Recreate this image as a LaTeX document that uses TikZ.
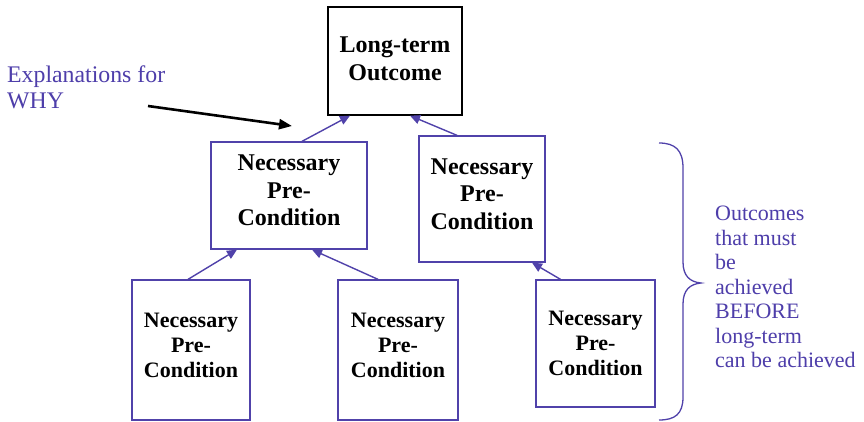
\documentclass[tikz,border=0pt]{standalone}
\usepackage{fontspec}
\setmainfont{Liberation Serif}
\usetikzlibrary{arrows.meta,calc}
\definecolor{nodeblue}{RGB}{80,66,170}
\definecolor{textblue}{RGB}{78,62,170}
\begin{document}
\begin{tikzpicture}[x=1pt,y=-1pt,
  box/.style={draw=nodeblue,line width=1.3pt,fill=white,inner sep=0pt},
  boxtext/.style={inner sep=0pt,align=center,font=\fontsize{22}{25}\selectfont\bfseries},
  bigtext/.style={inner sep=0pt,align=center,font=\fontsize{24}{27.5}\selectfont\bfseries},
  link/.style={draw=nodeblue,line width=1.4pt,-{Triangle[length=10pt,width=9pt]}},
  note/.style={text=textblue,align=left,inner sep=0pt}]
\useasboundingbox (0,0) rectangle (864,421);
\fill[white] (0,0) rectangle (864,421);

% goal box
\node[box,draw=black,minimum width=134pt,minimum height=108pt] (goal) at (395,61) {};
\node[bigtext,font=\fontsize{24}{28}\selectfont\bfseries] (goalT) at ([yshift=2pt]goal.center) {Long-term\\Outcome};

% intermediate preconditions
\node[box,minimum width=156pt,minimum height=107pt] (midL) at (289,195.5) {};
\node[bigtext] (midLT) at ([yshift=5pt]midL.center) {Necessary\\Pre-\\Condition};
\node[box,minimum width=126pt,minimum height=126pt] (midR) at (482,199) {};
\node[bigtext] (midRT) at ([yshift=5pt]midR.center) {Necessary\\Pre-\\Condition};

% lowest preconditions
\node[box,minimum width=118pt,minimum height=140pt] (b1) at (191,350) {};
\node[boxtext] (b1T) at ([yshift=5pt]b1.center) {Necessary\\Pre-\\Condition};
\node[box,minimum width=120pt,minimum height=140pt] (b2) at (398,350) {};
\node[boxtext] (b2T) at ([yshift=5pt]b2.center) {Necessary\\Pre-\\Condition};
\node[box,minimum width=119pt,minimum height=127pt] (b3) at (595.5,343.5) {};
\node[boxtext] (b3T) at (b3.center) {Necessary\\Pre-\\Condition};

% links toward the outcome
\draw[link] ([xshift=13pt]midL.north) -- ([xshift=-45pt]goal.south);
\draw[link] ([xshift=-25pt]midR.north) -- ([xshift=15pt]goal.south);
\draw[link] ([xshift=-3pt]b1.north) -- ([xshift=-52pt]midL.south);
\draw[link] ([xshift=-20pt]b2.north) -- ([xshift=23pt]midL.south);
\draw[link] ([xshift=-35pt]b3.north) -- ([xshift=50pt]midR.south);

% explanation label and arrow
\node[note,anchor=west,font=\fontsize{23.8}{26}\selectfont] (why) at (7,87) {Explanations for\\WHY};
\coordinate (whyS) at (148,106);
\coordinate (whyE) at (292,126);
\draw[line width=2.6pt,-{Triangle[length=13pt,width=10pt]}] (whyS) -- (whyE);

% brace and its label
\draw[nodeblue,line width=1.3pt]
  (659,143) .. controls (675,143) and (683,150) .. (683,168)
  -- (683,262) .. controls (683,276) and (690,282) .. (701,283)
  .. controls (690,284) and (683,290) .. (683,304)
  -- (683,397) .. controls (683,414) and (675,420) .. (659,420);
\node[note,anchor=west,font=\fontsize{22}{24.5}\selectfont] (before) at (715,287)
  {Outcomes\\that must\\be\\achieved\\BEFORE\\long-term\\can be achieved};
\end{tikzpicture}
\end{document}
